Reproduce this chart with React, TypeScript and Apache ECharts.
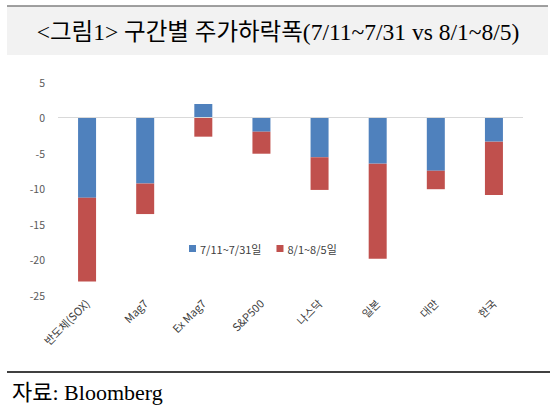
import React, { useEffect, useRef } from "react";
import * as echarts from "echarts";

const categories = ["반도체(SOX)", "Mag7", "Ex Mag7", "S&P500", "나스닥", "일본", "대만", "한국"];
const seriesNames = ["7/11~7/31일", "8/1~8/5일"];
const julyValues = [-11.3, -9.3, 1.9, -2.0, -5.6, -6.5, -7.5, -3.4];
const augustValues = [-11.8, -4.3, -2.7, -3.1, -4.6, -13.4, -2.6, -7.5];
const titleText = "<그림1> 구간별 주가하락폭(7/11~7/31 vs 8/1~8/5)";
const sourceText = "자료: Bloomberg";

const SERIF = "'Liberation Serif', 'Times New Roman', 'Noto Sans CJK KR', serif";
const SANS = "'Noto Sans CJK KR', 'Noto Sans', sans-serif";

export default function App() {
  const ref = useRef<HTMLDivElement>(null);
  useEffect(() => {
    if (!ref.current) return;
    const chart = echarts.init(ref.current, undefined, { renderer: "svg" });
    chart.setOption({
      animation: false,
      backgroundColor: "#ffffff",
      graphic: [
        { type: "rect", shape: { x: 7, y: 6, width: 541, height: 49 }, style: { fill: "#f2f2f2" }, silent: true },
        { type: "line", shape: { x1: 7, y1: 6, x2: 548, y2: 6 }, style: { stroke: "#808080", lineWidth: 1.5 }, silent: true },
        {
          type: "text",
          x: 278,
          y: 32,
          style: { text: titleText, font: `23.5px ${SERIF}`, fill: "#000", align: "center", verticalAlign: "middle" },
          silent: true,
        },
        { type: "line", shape: { x1: 7, y1: 372, x2: 550, y2: 372 }, style: { stroke: "#000", lineWidth: 1.5 }, silent: true },
        {
          type: "text",
          x: 12,
          y: 392,
          style: { text: sourceText, font: `22px ${SERIF}`, fill: "#000", align: "left", verticalAlign: "middle" },
          silent: true,
        },
      ],
      legend: {
        data: seriesNames,
        left: 184,
        top: 238,
        icon: "rect",
        itemWidth: 7,
        itemHeight: 7,
        itemGap: 15,
        textStyle: { fontFamily: SANS, fontSize: 11, color: "#404040", padding: [0, 0, 0, -1] },
      },
      grid: { left: 58, top: 82, width: 465, height: 213, containLabel: false },
      xAxis: {
        type: "category",
        data: categories,
        position: "bottom",
        axisLine: { show: false, onZero: false },
        axisTick: { show: false },
        axisLabel: { rotate: 45, margin: 6, fontFamily: SANS, fontSize: 11, color: "#404040", interval: 0 },
      },
      yAxis: {
        type: "value",
        min: -25,
        max: 5,
        interval: 5,
        axisLine: { show: false },
        axisTick: { show: false },
        splitLine: { show: false },
        axisLabel: { margin: 13, fontFamily: SANS, fontSize: 10.5, color: "#595959" },
      },
      series: [
        {
          name: seriesNames[0],
          type: "bar",
          stack: "s",
          data: julyValues,
          barWidth: 18,
          itemStyle: { color: "#4F81BD" },
          markLine: {
            silent: true,
            symbol: "none",
            label: { show: false },
            lineStyle: { color: "#d9d9d9", type: "solid", width: 1 },
            data: [{ yAxis: 0 }],
          },
        },
        {
          name: seriesNames[1],
          type: "bar",
          stack: "s",
          data: augustValues,
          barWidth: 18,
          itemStyle: { color: "#C0504D" },
        },
      ],
    });
    return () => chart.dispose();
  }, []);
  return (
    <div
      ref={ref}
      style={{ position: "fixed", left: 0, top: 0, width: 559, height: 413, background: "#fff" }}
    />
  );
}
